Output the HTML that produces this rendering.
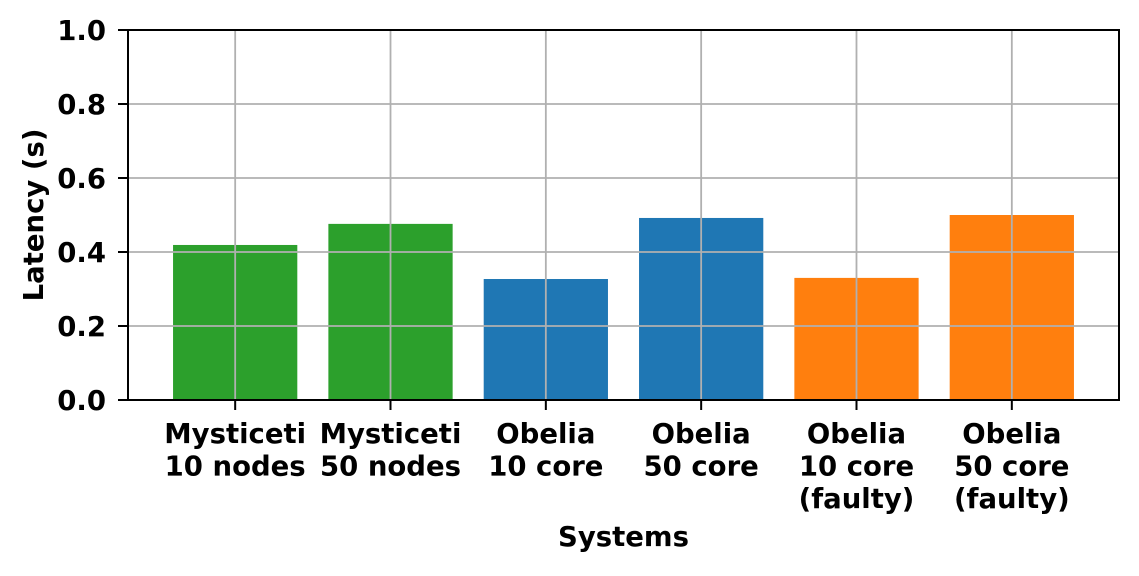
<!DOCTYPE html>
<html><head><meta charset="utf-8"><style>
html,body{margin:0;padding:0;background:#fff;}
svg text{font-family:"DejaVu Sans","Liberation Sans",sans-serif;font-weight:bold;fill:#000;}
</style></head><body>
<svg id="chart" width="1139" height="571" viewBox="0 0 1139 571" xmlns="http://www.w3.org/2000/svg"></svg>
<script>
const categories = [["Mysticeti","10 nodes"],["Mysticeti","50 nodes"],["Obelia","10 core"],["Obelia","50 core"],["Obelia","10 core","(faulty)"],["Obelia","50 core","(faulty)"]];
const values = [0.419, 0.476, 0.327, 0.492, 0.330, 0.500];
const colors = ["#2ca02c","#2ca02c","#1f77b4","#1f77b4","#ff7f0e","#ff7f0e"];
const yTicks = [0.0, 0.2, 0.4, 0.6, 0.8, 1.0];
const yTickLabels = ["0.0","0.2","0.4","0.6","0.8","1.0"];

const svg = document.getElementById('chart');
const NS = "http://www.w3.org/2000/svg";
const L=128,R=1119,T=30,B=400;
const xMin=-0.69,xMax=5.69;
const xs = v => L + (v - xMin)/(xMax-xMin)*(R-L);
const ys = v => B - v*(B-T);
function mk(tag, attrs){const e=document.createElementNS(NS,tag);for(const k in attrs)e.setAttribute(k,attrs[k]);svg.appendChild(e);return e;}

values.forEach((v,i)=>{
  const x0=xs(i-0.4), x1=xs(i+0.4);
  const r=mk('rect',{x:x0,y:ys(v),width:x1-x0,height:ys(0)-ys(v),fill:colors[i]});
  
  
});
yTicks.forEach((t,i)=>{
  const g=mk('line',{x1:L,x2:R,y1:ys(t),y2:ys(t),stroke:'#b0b0b0','stroke-width':1.8});
  
  
  const tk=mk('line',{x1:L-10,x2:L,y1:ys(t),y2:ys(t),stroke:'#000','stroke-width':2});
  
  
  const tx=mk('text',{x:L-22,y:ys(t)+10,'text-anchor':'end','font-size':27.5});
  tx.textContent=yTickLabels[i];
  
  
});
categories.forEach((c,i)=>{
  const x=xs(i);
  const g=mk('line',{x1:x,x2:x,y1:T,y2:B,stroke:'#b0b0b0','stroke-width':1.8});
  
  
  const tk=mk('line',{x1:x,x2:x,y1:B,y2:B+10,stroke:'#000','stroke-width':2});
  
  
  c.forEach((line,j)=>{
    const tx=mk('text',{x:x,y:443+j*32.5,'text-anchor':'middle','font-size':27.5});
    tx.textContent=line;
    
    
  });
});
const fr=mk('rect',{x:L,y:T,width:R-L,height:B-T,fill:'none',stroke:'#000','stroke-width':2});


const xt=mk('text',{x:(L+R)/2,y:546,'text-anchor':'middle','font-size':27.5});
xt.textContent='Systems';


const yt=mk('text',{x:0,y:0,'text-anchor':'middle','font-size':27.5,transform:'translate(43,215) rotate(-90)'});
yt.textContent='Latency (s)';


</script>
</body></html>
